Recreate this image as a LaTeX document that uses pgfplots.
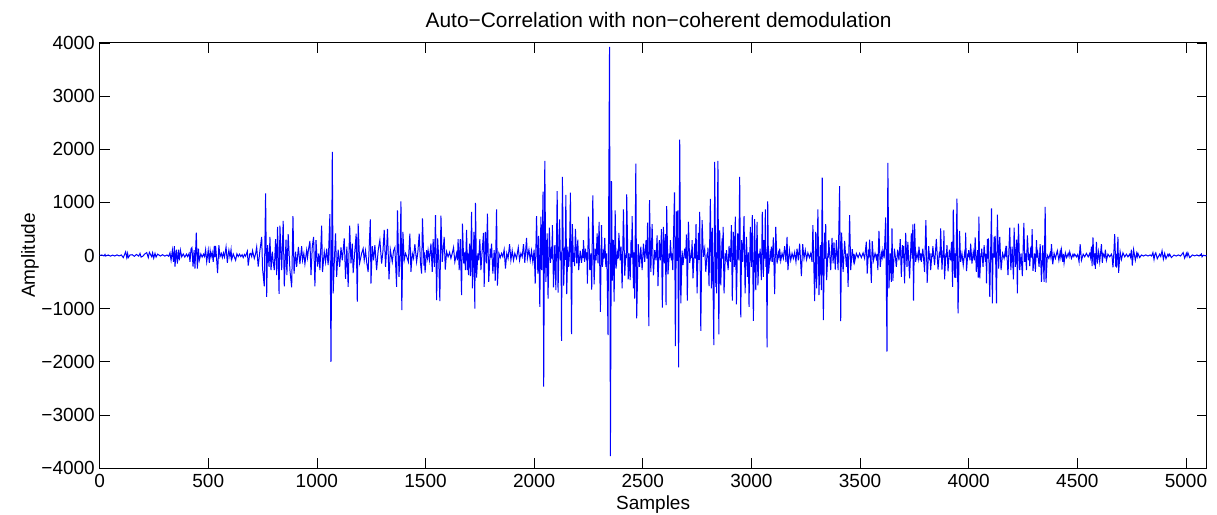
\documentclass[border=0pt]{standalone}
\usepackage{fontspec}
\setmainfont{Liberation Sans}
\usepackage{pgfplots}
\pgfplotsset{compat=1.18}
\usepackage{pgfplotstable}
\pgfplotstableread{
x y
0 0
10 10
20 -8
25 20
28 -10
40 10
50 -12
60 8
70 -10
80 12
90 -8
100 10
109 -40
120 70
125 -40
129 40
132 -40
140 10
150 15
160 -15
170 20
180 -12
186 40
191 -30
200 -10
207 25
217 55
224 -40
229 60
240 -25
244 50
249 -50
255 40
260 -30
267 25
280 -10
290 15
300 -12
310 10
318 -15
324 50
329 -90
335 100
340 -120
344 175
347 -210
353 110
358 -150
363 110
367 -90
372 100
378 -25
385 30
392 -30
400 25
405 -20
412 40
416 -120
421 130
425 150
430 -210
435 100
439 -245
445 430
450 -245
455 130
459 -90
466 30
472 -30
478 25
483 -20
488 110
493 -120
500 100
505 -140
509 90
513 -25
518 60
523 -120
528 180
531 -30
534 180
539 -90
543 -330
549 195
554 -25
560 40
565 -40
570 50
575 -30
582 160
588 -140
592 20
595 100
600 -30
605 110
608 -75
615 30
620 -25
626 -90
632 30
638 -20
644 25
650 -20
656 15
661 -40
667 20
672 -15
680 80
684 -190
691 30
695 40
700 -20
704 90
712 -55
718 30
723 160
730 -210
738 100
746 350
750 -245
758 -580
764 1170
769 -780
773 195
780 -215
784 350
789 -275
795 70
799 -120
804 -275
810 310
815 -370
819 540
826 -720
830 560
838 -275
845 650
850 -580
858 300
862 -370
868 400
876 -275
884 -600
890 740
895 -340
902 70
907 -215
915 160
922 -160
930 175
934 -90
940 40
945 -160
953 100
957 -40
961 100
968 275
973 -370
979 175
985 350
991 -580
996 290
1003 -210
1009 40
1014 -275
1022 560
1026 -310
1034 70
1040 -120
1045 130
1052 -180
1060 780
1065 -2000
1071 1950
1075 -715
1080 -140
1086 415
1091 -400
1098 110
1105 -215
1111 150
1117 -90
1126 320
1132 -440
1138 165
1144 -590
1151 560
1157 -150
1163 225
1167 -330
1175 100
1181 410
1186 -870
1190 600
1197 -140
1206 40
1213 130
1218 -90
1224 90
1230 -150
1236 -310
1246 680
1249 -530
1255 175
1261 -90
1267 195
1275 -275
1282 90
1290 290
1298 -150
1304 70
1310 480
1316 -215
1321 130
1325 500
1332 -450
1338 110
1347 -120
1353 90
1359 150
1367 -590
1371 850
1378 -400
1383 20
1387 1020
1391 -1030
1396 445
1402 -90
1408 40
1414 -25
1421 -120
1428 410
1433 -310
1439 40
1445 -55
1451 215
1459 -120
1465 70
1471 410
1477 -150
1482 -340
1486 700
1493 -190
1495 60
1498 -320
1505 100
1509 -40
1512 100
1518 -90
1525 225
1531 -310
1535 310
1541 -215
1546 760
1551 -840
1556 320
1561 -80
1566 -860
1571 750
1577 -120
1586 350
1591 -265
1597 70
1604 -25
1611 60
1617 -55
1623 40
1629 150
1635 -120
1643 40
1647 -90
1650 310
1655 -275
1660 310
1666 -745
1670 600
1676 -150
1680 60
1684 -275
1689 480
1693 -275
1695 50
1698 -370
1703 225
1707 -390
1712 820
1716 -620
1723 445
1727 -1000
1730 990
1735 -415
1741 40
1745 -90
1750 310
1755 -275
1761 100
1767 425
1770 -590
1776 445
1781 -150
1785 790
1791 -495
1798 130
1801 -40
1804 225
1810 -340
1816 100
1821 -475
1827 870
1831 -565
1838 40
1844 -40
1850 40
1856 -25
1862 110
1868 -245
1874 40
1880 -55
1887 215
1893 -90
1899 90
1905 -90
1911 40
1919 -55
1927 150
1933 -90
1939 40
1945 -25
1951 215
1957 -140
1965 330
1969 -55
1976 110
1982 -90
1988 90
1994 -120
2000 110
2005 -530
2011 740
2017 -340
2021 370
2026 -965
2031 730
2035 -275
2041 1200
2044 -2470
2049 1780
2054 -495
2060 415
2064 -810
2070 525
2075 -140
2080 165
2082 -60
2084 570
2089 -600
2095 195
2100 -650
2106 1210
2110 -700
2117 680
2121 -90
2124 60
2126 -1605
2130 1480
2136 -565
2141 165
2143 -80
2146 1140
2150 -725
2155 165
2159 -215
2163 80
2167 1185
2172 -1480
2176 590
2181 -120
2184 50
2186 -200
2190 500
2196 -150
2201 300
2205 -275
2212 90
2218 -140
2222 40
2225 -50
2227 290
2232 -120
2236 130
2241 -90
2243 60
2245 -530
2250 730
2256 -275
2261 40
2265 -640
2270 1130
2276 -545
2281 130
2285 -90
2290 415
2294 -150
2299 635
2305 -1060
2310 570
2314 -215
2319 40
2322 -60
2325 330
2330 -215
2333 40
2336 -340
2340 -1500
2347 3925
2351 -3775
2356 1400
2360 -475
2365 290
2368 -870
2373 850
2377 -245
2383 40
2387 -60
2390 425
2396 -90
2400 165
2405 -620
2411 870
2417 -380
2422 40
2424 -50
2426 1150
2433 -450
2437 40
2442 -465
2446 290
2449 -40
2451 740
2457 -620
2460 60
2463 -810
2468 1730
2472 -1185
2479 215
2485 -215
2491 165
2497 -275
2503 225
2509 -120
2515 290
2519 -60
2522 620
2528 -1330
2531 1040
2537 -310
2543 590
2549 -375
2555 100
2561 -90
2566 380
2570 -575
2576 290
2581 -90
2586 495
2590 -980
2595 540
2599 -150
2604 400
2607 -935
2610 930
2616 -355
2622 40
2625 -50
2627 290
2632 -90
2635 40
2638 -275
2646 1190
2650 -1705
2655 830
2658 -100
2661 850
2665 -2105
2670 2180
2675 -900
2681 90
2685 -180
2693 130
2697 -60
2701 395
2705 -850
2710 635
2716 -140
2722 40
2725 -50
2727 290
2731 -430
2739 225
2742 -60
2745 590
2750 -715
2756 425
2759 -80
2762 820
2767 -1420
2773 665
2779 -25
2785 130
2790 -310
2796 40
2798 -30
2800 150
2805 -575
2811 1065
2816 -620
2820 520
2827 -1685
2831 1760
2836 -590
2838 60
2840 -715
2846 1780
2850 -1485
2854 475
2859 -560
2865 320
2867 -60
2870 540
2874 -715
2880 40
2883 -40
2885 100
2893 -275
2897 180
2903 -120
2908 570
2912 -850
2917 445
2922 -215
2926 730
2931 -920
2937 415
2942 -90
2946 1480
2951 -1165
2955 290
2960 -120
2966 740
2971 -715
2977 350
2983 -400
2986 60
2989 -965
2995 540
3000 -215
3004 760
3009 -1230
3015 685
3020 -650
3026 635
3030 -560
3035 40
3038 -40
3040 130
3046 -465
3050 820
3055 -400
3059 290
3062 -60
3064 870
3067 -215
3069 60
3072 -1730
3075 1020
3079 -340
3086 40
3089 -40
3092 165
3096 -120
3101 340
3107 -725
3112 540
3118 -150
3124 40
3127 -30
3130 130
3135 -100
3141 40
3147 -55
3153 175
3159 -125
3164 350
3168 -275
3175 100
3181 -90
3187 40
3193 -55
3199 60
3205 -120
3210 130
3216 -90
3222 225
3230 -390
3236 215
3242 -55
3248 100
3254 -75
3260 50
3267 -40
3273 40
3279 -120
3283 570
3291 -860
3296 445
3300 -620
3306 870
3311 -745
3317 195
3322 -650
3326 1465
3331 -1215
3337 430
3340 -60
3342 590
3346 -465
3352 40
3354 -40
3356 290
3365 -275
3371 330
3376 -150
3380 245
3386 -265
3391 290
3399 -275
3406 1305
3411 -1235
3415 430
3422 -310
3429 275
3437 -215
3441 40
3445 -590
3452 760
3457 -275
3464 120
3470 -90
3473 30
3475 -120
3483 40
3491 -40
3498 40
3506 -40
3514 50
3521 -55
3529 260
3533 -340
3538 40
3541 -40
3544 300
3552 -515
3556 270
3562 -90
3569 40
3575 -55
3578 30
3582 -275
3587 465
3593 -215
3599 40
3602 -30
3605 100
3611 -55
3618 715
3624 -1810
3628 1745
3633 -620
3639 40
3644 -495
3647 510
3651 -475
3658 130
3663 -40
3667 -215
3673 110
3679 -90
3685 310
3690 -400
3695 195
3698 -50
3700 180
3705 -525
3710 425
3716 -215
3720 255
3728 -430
3736 415
3740 -60
3743 585
3746 -850
3751 600
3756 -120
3762 40
3768 -75
3771 165
3777 -90
3780 40
3782 -120
3789 130
3797 -310
3803 665
3809 -515
3816 175
3820 -90
3822 40
3825 -275
3831 40
3833 -30
3835 175
3843 -180
3851 310
3859 -265
3865 70
3868 -40
3871 510
3877 -265
3882 100
3884 -40
3886 475
3889 -450
3895 40
3897 -30
3900 195
3905 -300
3911 110
3917 -90
3921 255
3926 -590
3929 865
3935 -415
3938 40
3941 -420
3946 1070
3951 -1090
3958 465
3963 -120
3969 40
3975 -180
3981 40
3984 -40
3986 430
3990 -295
3996 40
3998 -30
4000 100
4006 -90
4009 225
4015 -150
4021 70
4026 -90
4030 340
4035 -310
4041 100
4044 -415
4047 730
4051 -430
4056 40
4058 -30
4060 130
4066 -215
4071 195
4077 -120
4080 30
4082 -525
4086 310
4088 -60
4091 320
4097 -780
4105 885
4109 -900
4112 40
4115 -40
4117 350
4120 -40
4122 370
4128 -900
4132 770
4138 -245
4143 350
4149 -275
4156 40
4163 -55
4169 100
4171 -30
4174 180
4181 -370
4189 525
4194 -275
4200 165
4206 -450
4209 525
4215 -215
4221 300
4224 -715
4229 600
4235 -275
4241 40
4247 -390
4254 615
4258 -120
4262 40
4266 -275
4270 380
4276 -90
4279 30
4281 -200
4286 165
4289 -40
4292 495
4296 -290
4303 40
4307 -310
4312 290
4315 -40
4318 40
4324 -215
4329 215
4335 -495
4341 195
4347 -495
4352 915
4356 -510
4362 5
4369 -55
4375 40
4378 -30
4381 215
4387 -165
4393 40
4399 -55
4408 90
4415 -90
4421 70
4424 -30
4427 100
4433 -120
4436 30
4439 -140
4445 50
4451 -40
4458 40
4462 -20
4465 70
4473 -55
4480 25
4484 -20
4488 25
4496 -25
4502 20
4508 -120
4513 215
4519 -90
4527 25
4534 -25
4542 40
4550 -25
4557 40
4561 -40
4565 165
4568 -200
4572 340
4577 -180
4580 40
4583 -250
4588 255
4592 -150
4598 70
4603 -120
4611 215
4615 -140
4619 30
4626 -30
4629 110
4634 -90
4641 25
4649 -25
4657 25
4660 -20
4664 -225
4668 40
4672 400
4677 -215
4679 30
4681 -230
4687 350
4690 -325
4697 70
4703 -75
4710 50
4718 -25
4726 25
4733 -25
4741 25
4745 -30
4749 110
4753 -190
4759 110
4767 -90
4773 40
4776 -20
4779 40
4787 -40
4795 10
4805 -10
4815 12
4825 -10
4835 10
4842 -10
4848 55
4853 -75
4857 20
4861 50
4868 -60
4879 25
4884 -20
4890 90
4896 -70
4902 40
4908 -60
4917 25
4921 -15
4925 25
4933 -40
4945 10
4955 -10
4965 10
4975 -10
4987 55
4994 -50
5002 40
5005 -15
5009 50
5017 -40
5030 10
5040 -8
5050 10
5060 -10
5071 30
5074 -25
5080 5
5090 -5
5095 0
}\sigdata
\begin{document}
\fontsize{19}{22}\selectfont%
\begin{tikzpicture}
\begin{axis}[
  name=ax,
  at={(0pt,0pt)}, anchor=south west,
  scale only axis, width=1107pt, height=425pt,
  xmin=0, xmax=5095, ymin=-4000, ymax=4000,
  xtick={0,500,1000,1500,2000,2500,3000,3500,4000,4500,5000},
  xticklabels={0,500,1000,1500,2000,2500,3000,3500,4000,4500,5000},
  ytick={-4000,-3000,-2000,-1000,0,1000,2000,3000,4000},
  yticklabels={−4000,−3000,−2000,−1000,0,1000,2000,3000,4000},
  tick align=inside, major tick length=10pt,
  tick style={black, line width=0.7pt},
  axis line style={black, line width=1pt},
  every tick label/.append style={font=\fontsize{19}{22}\selectfont},
  yticklabel style={inner sep=0pt, anchor=east, xshift=-4.6pt},
  xticklabel style={inner sep=0pt, anchor=north, yshift=-6.5pt},
  title={Auto−Correlation with non−coherent demodulation},
  title style={at={(axis description cs:0.505,1.0235)}, anchor=base, inner sep=0pt, font=\fontsize{20.9}{24}\selectfont},
  xlabel={Samples},
  xlabel style={at={(axis description cs:0.5,-0.0976)}, anchor=base, inner sep=0pt, font=\fontsize{19}{22}\selectfont},
  ylabel={Amplitude},
  ylabel style={at={(axis description cs:-0.0585,0.5)}, anchor=base, inner sep=0pt, font=\fontsize{19}{22}\selectfont},
  clip=true,
]
\addplot[color={rgb,255:red,0;green,0;blue,255}, line width=1pt, line join=miter, mark=none] table[x=x,y=y] {\sigdata};
\end{axis}
\path (ax.south west) ++(-99.6pt,-46pt) rectangle ++(1217pt,514pt);
\end{tikzpicture}%
\end{document}
